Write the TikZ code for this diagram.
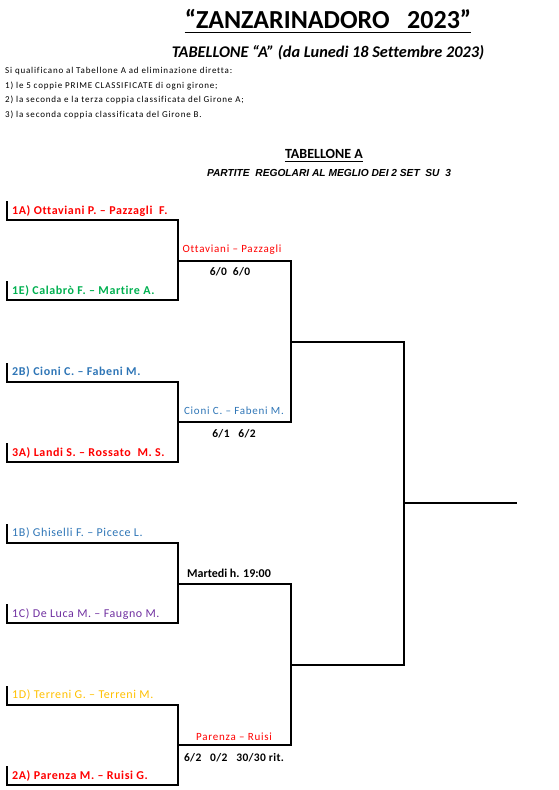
\documentclass[tikz,border=0pt]{standalone}
\usepackage{fontspec}
\setmainfont{Carlito}[Ligatures=NoCommon]
\newfontfamily\arialfont{Liberation Sans}
\usetikzlibrary{positioning, calc}

\definecolor{exred}{HTML}{FF0000}
\definecolor{exgreen}{HTML}{00B050}
\definecolor{exblue}{HTML}{2E75B6}
\definecolor{expurple}{HTML}{7030A0}
\definecolor{exgold}{HTML}{FFC000}

% spread letters like the spreadsheet does
\newcommand\xlsspread[1]{\addfontfeatures{LetterSpace=#1}}

\begin{document}
\begin{tikzpicture}[x=1pt, y=-1pt, line join=miter,
  bracket/.style={line width=2.8pt},
  team/.style={anchor=base west, inner sep=0pt,
    font=\fontsize{12}{14}\selectfont\bfseries\xlsspread{5}},
  teamlight/.style={team, font=\fontsize{12}{14}\selectfont\xlsspread{5}},
  match/.style={anchor=base, inner sep=0pt,
    font=\fontsize{11}{13}\selectfont\xlsspread{7}},
  score/.style={anchor=base, inner sep=0pt,
    font=\fontsize{11.5}{13}\selectfont\bfseries\xlsspread{3}},
  rule/.style={anchor=base west, inner sep=0pt,
    font=\fontsize{9}{11}\selectfont\xlsspread{9}}]
  \useasboundingbox (0,0) rectangle (559,790);

  % Header
  \node[anchor=base, inner sep=0pt, font=\fontsize{26}{30}\selectfont\bfseries]
    (title) at (328,28) {“ZANZARINADORO~~~2023”};
  \draw[line width=1.3pt] ([yshift=-4.5pt]title.base west) -- ([yshift=-4.5pt]title.base east);
  \node[anchor=base, inner sep=0pt, font=\fontsize{16.3}{19}\selectfont\bfseries\itshape]
    (subtitle) at (328,57) {TABELLONE “A” (da Lunedi 18 Settembre 2023)};

  % Qualification rules
  \node[rule] (r0) at (5,73) {Si qualificano al Tabellone A ad eliminazione diretta:};
  \node[rule] (r1) at (5,88) {1) le 5 coppie PRIME CLASSIFICATE di ogni girone;};
  \node[rule] (r2) at (5,102) {2) la seconda e la terza coppia classificata del Girone A;};
  \node[rule] (r3) at (5,117) {3) la seconda coppia classificata del Girone B.};

  % Bracket heading
  \node[anchor=base, inner sep=0pt, font=\fontsize{14}{16}\selectfont\bfseries]
    (tab) at (324,158) {TABELLONE A};
  \draw[line width=0.9pt] ([yshift=-3.5pt]tab.base west) -- ([yshift=-3.5pt]tab.base east);
  \node[anchor=base, inner sep=0pt, font=\arialfont\fontsize{10.2}{12}\selectfont\bfseries\itshape]
    (rules) at (329,176) {PARTITE~ REGOLARI AL MEGLIO DEI 2 SET~ SU~ 3};

  % First round
  \foreach \i/\ya/\yb in {1/220/300, 2/382/462, 3/543/623, 4/705/785}{
    \coordinate (t\i) at (7,\ya-19);
    \coordinate (r\i) at (178,\ya);
    \coordinate (q\i) at (178,\yb);
    \coordinate (b\i) at (7,\yb-19);
    \draw[bracket] (t\i) |- (r\i) -- (q\i) -| (b\i);
  }

  % Second round
  \foreach \i/\ya/\yb in {1/261/422, 2/584/745}{
    \coordinate (u\i) at (178,\ya);
    \coordinate (v\i) at (178,\yb);
    \draw[bracket] (u\i) -- ++(113,0) coordinate (uu\i)
      -- (uu\i |- v\i) -- (v\i);
  }

  % Semi final and final
  \coordinate (s1) at (291,342);
  \coordinate (s2) at (291,665);
  \coordinate (fin) at (517,503);
  \draw[bracket] (s1) -| (fin -| 404,0) |- (s2);
  \draw[bracket] (404,503) -- (fin);

  % Teams
  \node[team, text=exred] (e1) at (12,214) {1A) Ottaviani P. – Pazzagli~ F.};
  \node[team, text=exgreen] (e2) at (12,294) {1E) Calabrò F. – Martire A.};
  \node[team, text=exblue] (e3) at (12,375) {2B) Cioni C. – Fabeni M.};
  \node[team, text=exred] (e4) at (12,456) {3A) Landi S. – Rossato~ M. S.};
  \node[teamlight, text=exblue] (e5) at (12,536) {1B) Ghiselli F. – Picece L.};
  \node[teamlight, text=expurple] (e6) at (12,617) {1C) De Luca M. – Faugno M.};
  \node[teamlight, text=exgold] (e7) at (12,698) {1D) Terreni G. – Terreni M.};
  \node[team, text=exred] (e8) at (12,779) {2A) Parenza M. – Ruisi G.};

  % Results
  \node[match, text=exred] (m1) at (232,252) {Ottaviani – Pazzagli};
  \node[score] (m1s) at (230,275) {6/0~ 6/0};
  \node[match, text=exblue] (m2) at (234,414) {Cioni C. – Fabeni M.};
  \node[score] (m2s) at (234,437) {6/1~~ 6/2};
  \node[score, font=\fontsize{12}{14}\selectfont\bfseries] (m3) at (229,577) {Martedi h. 19:00};
  \node[match, text=exred] (m4) at (234,740) {Parenza – Ruisi};
  \node[score] (m4s) at (234,761) {6/2~~ 0/2~~ 30/30 rit.};
\end{tikzpicture}
\end{document}
